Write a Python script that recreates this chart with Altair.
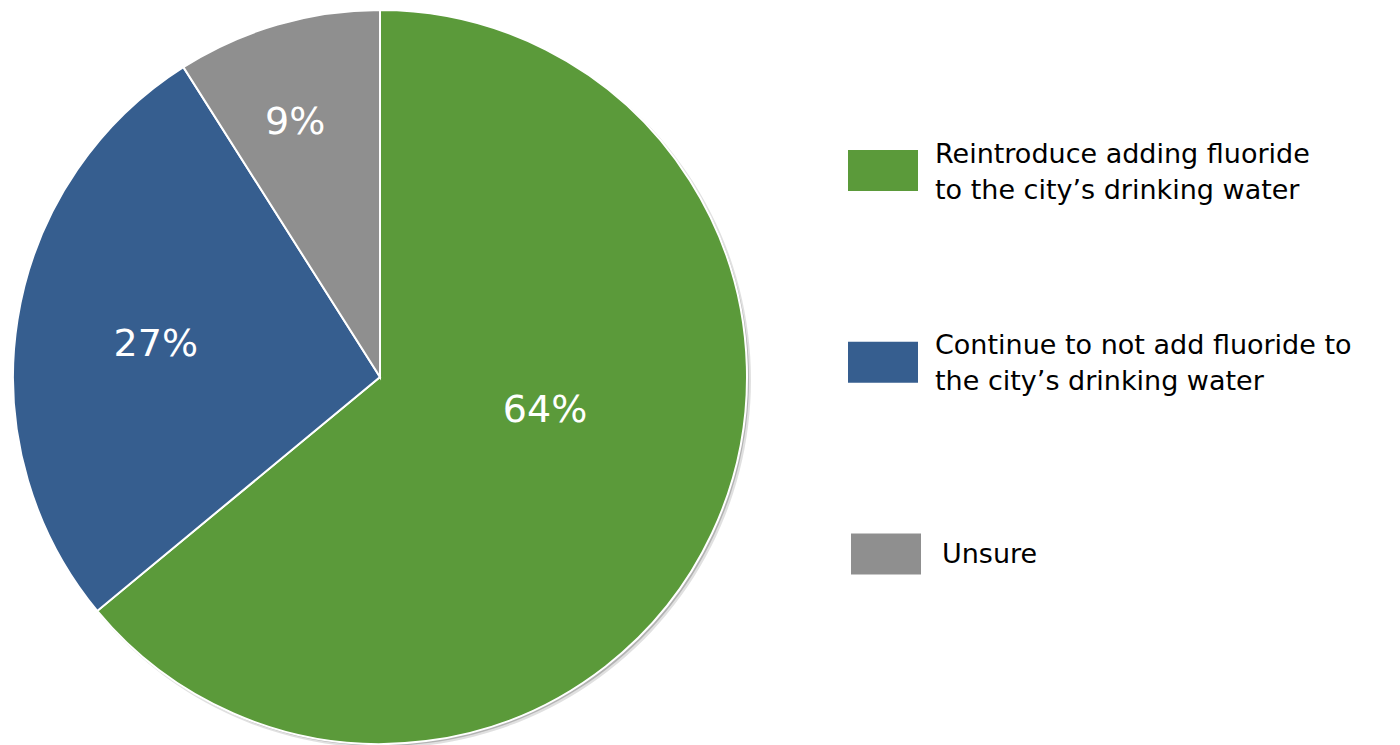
import altair as alt
import pandas as pd

categories = [
    "Reintroduce adding fluoride to the city’s drinking water",
    "Continue to not add fluoride to the city’s drinking water",
    "Unsure",
]
values = [64, 27, 9]
legend_text = [
    "Reintroduce adding fluoride\nto the city’s drinking water",
    "Continue to not add fluoride to\nthe city’s drinking water",
    "Unsure",
]
colors = ["#5B9A3A", "#365E8F", "#8F8F8F"]

df = pd.DataFrame({
    "cat": categories,
    "value": values,
    "order": list(range(len(categories))),
    "legend": legend_text,
})

FONT = "DejaVu Sans"
CX, CY, R = 372, 369, 367

color = alt.Color("cat:N", scale=alt.Scale(domain=categories, range=colors), legend=None)
theta = alt.Theta("value:Q", stack=True)
order = alt.Order("order:Q")

base = alt.Chart(df)

shadow1 = base.mark_arc(outerRadius=R + 1, color="#000000", opacity=0.12).encode(
    theta=theta, order=order, x=alt.value(CX + 3), y=alt.value(CY + 3))
shadow2 = base.mark_arc(outerRadius=R, color="#000000", opacity=0.2).encode(
    theta=theta, order=order, x=alt.value(CX + 2), y=alt.value(CY + 2))

pie = base.mark_arc(outerRadius=R, stroke="white", strokeWidth=2).encode(
    theta=theta, color=color, order=order, x=alt.value(CX), y=alt.value(CY))

labels_base = base.transform_joinaggregate(total="sum(value)").transform_window(
    cum="sum(value)", sort=[alt.SortField("order")], frame=[None, 0]
).transform_calculate(
    mid="(datum.cum - datum.value / 2) / datum.total * 2 * PI",
    pct="datum.value + '%'",
)

def label_layer(idx, radius, dx, dy):
    return labels_base.transform_filter(f"datum.order == {idx}").mark_text(
        radius=radius, fontSize=38, font=FONT, color="white", dx=dx, dy=dy,
        align="center", baseline="middle"
    ).encode(
        theta=alt.Theta("mid:Q", scale=None),
        text="pct:N",
        x=alt.value(CX), y=alt.value(CY),
    )

lab_green = label_layer(0, 168, 13, -38)
lab_blue = label_layer(1, 227, 0, 4)
lab_gray = label_layer(2, 268, -10, 3)

ypos = alt.Y("cat:N", sort=categories, axis=None,
             scale=alt.Scale(type="point", range=[162.5, 546], padding=0))

SWATCH = "M-1,-0.5857H1V0.5857H-1Z"

swatch_main = base.transform_filter("datum.order < 2").mark_point(
    shape=SWATCH, filled=True, size=4900, opacity=1, strokeWidth=0
).encode(x=alt.value(875), y=ypos, color=color)

swatch_unsure = base.transform_filter("datum.order == 2").mark_point(
    shape=SWATCH, filled=True, size=4900, opacity=1, strokeWidth=0
).encode(x=alt.value(878), y=ypos, color=color)

text_multi = base.transform_filter("datum.order < 2").mark_text(
    align="left", baseline="middle", fontSize=27, font=FONT, color="black",
    lineBreak="\n", lineHeight=36, dy=-16,
).encode(x=alt.value(927), y=ypos, text="legend:N")

text_single = base.transform_filter("datum.order == 2").mark_text(
    align="left", baseline="middle", fontSize=27, font=FONT, color="black",
    dy=1,
).encode(x=alt.value(934), y=ypos, text="legend:N")

chart = alt.layer(
    shadow1, shadow2, pie, lab_green, lab_blue, lab_gray,
    swatch_main, swatch_unsure, text_multi, text_single
).properties(
    width=1384, height=737, padding=0, autosize="none", background="white"
).configure_view(stroke=None)

chart.save("out.html", embed_options={"renderer": "svg", "actions": False})
